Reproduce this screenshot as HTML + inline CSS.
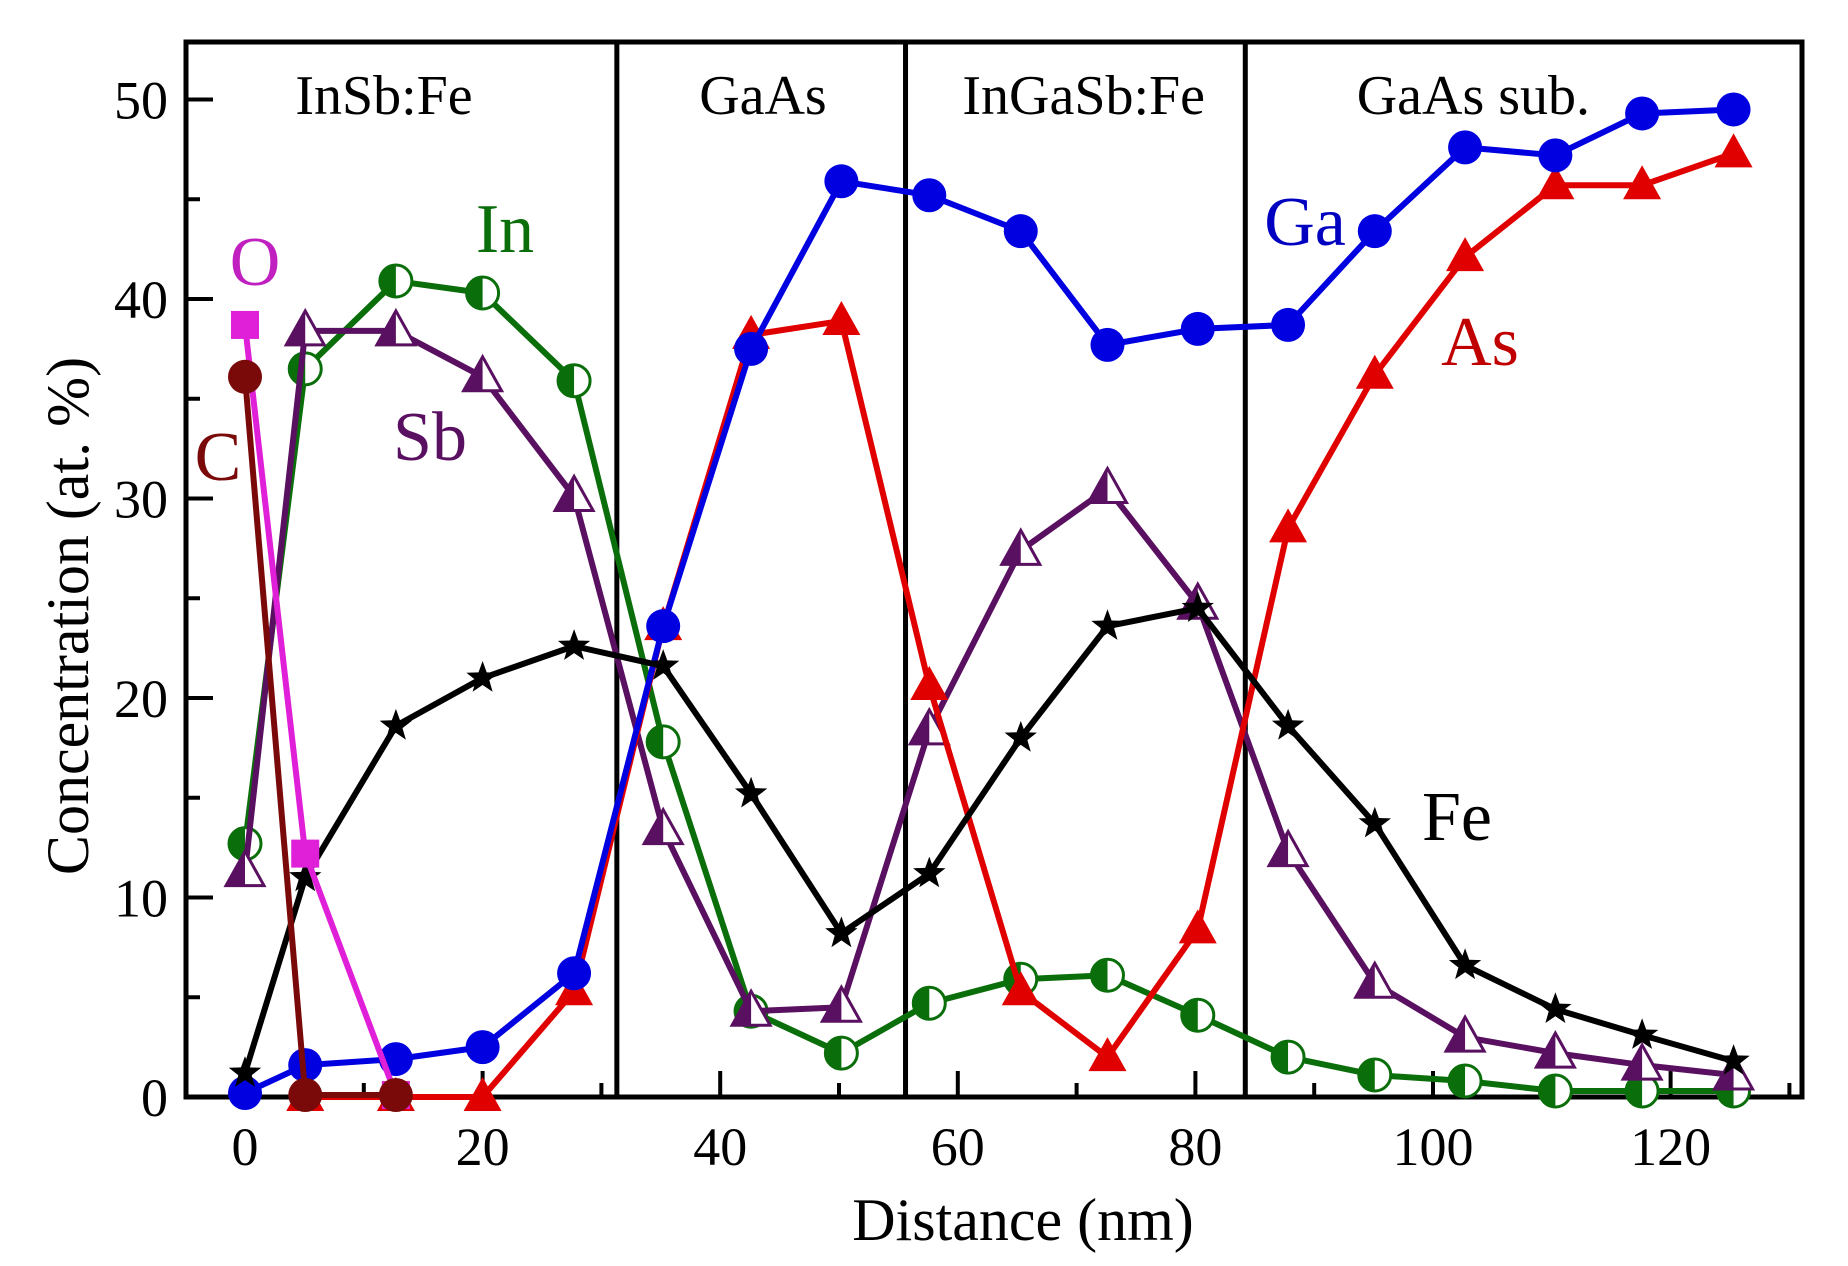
<!DOCTYPE html>
<html><head><meta charset="utf-8"><style>
html,body{margin:0;padding:0;background:#fff;}
svg{display:block;}
text{font-family:"Liberation Serif",serif;}
</style></head><body>
<svg id="chart" width="1848" height="1266" viewBox="0 0 1848 1266" xmlns="http://www.w3.org/2000/svg">
<g id="frame"></g>
<g id="series"></g>
<g id="labels"></g>
</svg>
<script>
const xVals = [0,5.07,12.7,20,27.7,35.2,42.6,50.2,57.6,65.3,72.6,80.2,87.8,95.1,102.7,110.3,117.6,125.3];
const gaVals = [0.2,1.6,1.9,2.5,6.2,23.6,37.5,45.9,45.2,43.4,37.7,38.5,38.7,43.4,47.6,47.2,49.3,49.5];
const asVals = [null,0,0,0,5.3,23.6,38.2,38.9,20.6,5.3,2.0,8.4,28.5,36.2,42.1,45.7,45.7,47.3];
const inVals = [12.7,36.5,40.9,40.3,35.9,17.8,4.3,2.2,4.7,5.9,6.1,4.1,2.0,1.1,0.8,0.3,0.3,0.3];
const sbVals = [11.3,38.4,38.4,36.1,30.1,13.4,4.3,4.5,18.4,27.4,30.5,24.7,12.3,5.7,3.0,2.2,1.6,1.1];
const feVals = [1.2,11.0,18.6,21.0,22.6,21.6,15.2,8.2,11.2,18.0,23.6,24.5,18.6,13.7,6.6,4.4,3.1,1.8];
const oVals = [38.7,12.2,0.1];
const cVals = [36.1,0.1,0.1];
const xTicks = [0,20,40,60,80,100,120];
const yTicks = [0,10,20,30,40,50];
const boundaries = [31.3,55.6,84.2];
const regionNames = ["InSb:Fe","GaAs","InGaSb:Fe","GaAs sub."];
const regionCenters = [11.7,43.6,70.6,103.4];

const L=186,R=1802,T=42,B=1097;
const X=v=>245+v*11.88;
const Y=v=>B-v*19.95;
const NS="http://www.w3.org/2000/svg";
function mk(tag,attrs,parent){const e=document.createElementNS(NS,tag);for(const k in attrs)e.setAttribute(k,attrs[k]);parent.appendChild(e);return e;}
const frame=document.getElementById('frame'),series=document.getElementById('series'),labels=document.getElementById('labels');

xTicks.forEach(t=>{
  const l=mk('line',{x1:X(t),x2:X(t),y1:B,y2:B-26,stroke:'#000','stroke-width':4},frame);
  
  
  const m=mk('line',{x1:X(t+10),x2:X(t+10),y1:B,y2:B-14,stroke:'#000','stroke-width':4},frame);
  
  
  const tx=mk('text',{x:X(t),y:B+68,'font-size':54,'text-anchor':'middle'},frame);
  tx.textContent=t;
  
  
});
yTicks.forEach(t=>{
  const l=mk('line',{x1:L,x2:L+27,y1:Y(t),y2:Y(t),stroke:'#000','stroke-width':4},frame);
  
  
  if(t<50){const m=mk('line',{x1:L,x2:L+14,y1:Y(t+5),y2:Y(t+5),stroke:'#000','stroke-width':4},frame);
  
  }
  const tx=mk('text',{x:168,y:Y(t)+19,'font-size':54,'text-anchor':'end'},frame);
  tx.textContent=t;
  
  
});
boundaries.forEach((b,i)=>{
  const l=mk('line',{x1:X(b),x2:X(b),y1:T,y2:B,stroke:'#000','stroke-width':5},frame);
  
  
});
regionNames.forEach((n,i)=>{
  const tx=mk('text',{x:X(regionCenters[i]),y:114,'font-size':56,'text-anchor':'middle'},frame);
  tx.textContent=n;
  
  
});
const box=mk('rect',{x:L,y:T,width:R-L,height:B-T,fill:'none',stroke:'#000','stroke-width':5},frame);


const xt=mk('text',{x:1023,y:1240,'font-size':60,'text-anchor':'middle'},frame);
xt.textContent='Distance (nm)';


const yt=mk('text',{x:0,y:0,'font-size':60,'text-anchor':'middle',transform:'translate(88,616) rotate(-90)'},frame);
yt.textContent='Concentration (at. %)';



function drawSeries(name,vals,color,marker){
  const g=mk('g',{},series);
  
  
  const pts=[];vals.forEach((v,i)=>{if(v!==null)pts.push([X(xVals[i]),Y(v)]);});
  const pl=mk('polyline',{points:pts.map(p=>p.join(',')).join(' '),fill:'none',stroke:color,'stroke-width':6,'stroke-linejoin':'round'},g);
  
  
  pts.forEach(([x,y])=>{
    let e;
    if(marker==='circle'){e=mk('circle',{cx:x,cy:y,r:17,fill:color},g);}
    else if(marker==='tri'){e=mk('polygon',{points:`${x},${y-20} ${x-19},${y+14} ${x+19},${y+14}`,fill:color},g);}
    else if(marker==='square'){e=mk('rect',{x:x-14,y:y-14,width:28,height:28,fill:color},g);}
    else if(marker==='halfcircle'){
      e=mk('g',{},g);
      mk('circle',{cx:x,cy:y,r:16,fill:'#fff',stroke:color,'stroke-width':3},e);
      mk('path',{d:`M${x},${y-16} A16,16 0 0 0 ${x},${y+16} Z`,fill:color},e);
    }
    else if(marker==='halftri'){
      e=mk('g',{},g);
      mk('polygon',{points:`${x},${y-20} ${x-19},${y+14} ${x+19},${y+14}`,fill:'#fff',stroke:color,'stroke-width':3},e);
      mk('polygon',{points:`${x},${y-20} ${x-19},${y+14} ${x},${y+14}`,fill:color},e);
    }
    else if(marker==='star'){
      let p=[];for(let k=0;k<10;k++){const r=k%2?7:17;const a=-Math.PI/2+k*Math.PI/5;p.push((x+r*Math.cos(a)).toFixed(1)+','+(y+r*Math.sin(a)).toFixed(1));}
      e=mk('polygon',{points:p.join(' '),fill:color},g);
    }
    
    
  });
}
drawSeries('in',inVals,'#0a6e0a','halfcircle');
drawSeries('sb',sbVals,'#5a1060','halftri');
drawSeries('as',asVals,'#e00000','tri');
drawSeries('ga',gaVals,'#0000e0','circle');
drawSeries('fe',feVals,'#000','star');
drawSeries('o',oVals,'#e020d8','square');
drawSeries('c',cVals,'#7a0a0a','circle');

const sl=[['In',505,252,'#0a6e0a'],['O',255,285,'#c020c0'],['Sb',430,460,'#5a1060'],['C',218,480,'#7a0a0a'],['Ga',1305,245,'#0000c0'],['As',1480,365,'#c00000'],['Fe',1457,840,'#000']];
sl.forEach(([t,x,y,c])=>{
  const tx=mk('text',{x:x,y:y,'font-size':70,'text-anchor':'middle',fill:c},labels);
  tx.textContent=t;
  
  
});
</script>
</body></html>
